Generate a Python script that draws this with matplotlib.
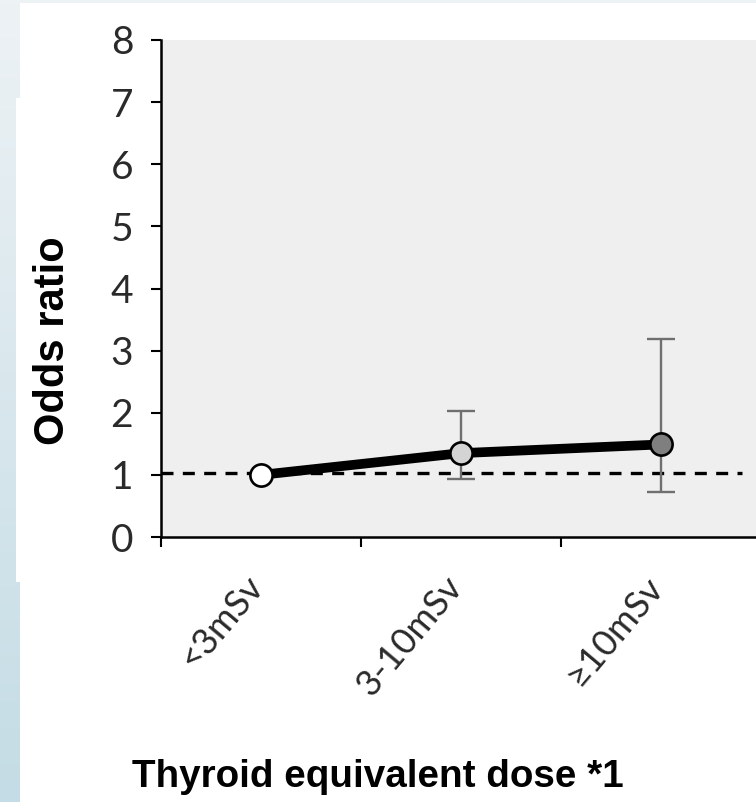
import numpy as np
import matplotlib
matplotlib.use("Agg")
import matplotlib.pyplot as plt
import matplotlib.transforms as mtransforms
from matplotlib.patches import Rectangle

# odds ratios with 95% CI by thyroid dose group
groups = ["<3mSv", "3-10mSv", "\u226510mSv"]
odds = [1.0, 1.35, 1.49]
ci_low = [1.0, 0.93, 0.72]
ci_high = [1.0, 2.03, 3.19]
marker_colors = ["white", "#d4d4d4", "#7f7f7f"]
ref_level = 1.03

W, H = 756, 802
fig = plt.figure(figsize=(W / 100, H / 100), dpi=100)

# pale blue page edge behind everything
bg = fig.add_axes([0, 0, 1, 1], zorder=-10)
grad = np.linspace(0, 1, 256).reshape(-1, 1)
cmap = matplotlib.colors.LinearSegmentedColormap.from_list("edge", ["#edf2f5", "#c4dce5"])
bg.imshow(grad, aspect="auto", cmap=cmap, extent=[0, W, H, 0])
for x0, y0, x1, y1 in [(20, 3, W, 98), (16, 98, W, 582), (20, 582, W, H)]:
    bg.add_patch(Rectangle((x0, y0), x1 - x0, y1 - y0, color="white", lw=0))
bg.set_xlim(0, W)
bg.set_ylim(H, 0)
bg.axis("off")

ax = fig.add_axes([161 / W, 1 - 537 / H, 1 - 161 / W, (537 - 40) / H])
ax.set_facecolor("#efefef")

x = np.arange(len(groups)) + 0.5
yerr = [np.array(odds) - np.array(ci_low), np.array(ci_high) - np.array(odds)]

ax.axhline(ref_level, xmin=0, xmax=0.976, color="black", lw=2.4,
           linestyle=(0, (3.6, 2.8)), zorder=1)
ax.errorbar(x[1:], odds[1:], yerr=[yerr[0][1:], yerr[1][1:]], fmt="none",
            ecolor="#6f6f6f", elinewidth=1.7, capsize=10, capthick=1.7, zorder=2)
ax.plot(x, odds, color="black", lw=7, zorder=3, solid_capstyle="butt")
for xi, yi, c in zip(x, odds, marker_colors):
    ax.plot(xi, yi, "o", ms=16, mfc=c, mec="black", mew=1.9, zorder=4)

ax.set_xlim(0, (W - 161) / 200)
ax.set_ylim(0, 8)
ax.set_yticks(range(9))
ax.set_xticks([0, 1, 2])
ax.set_xticklabels([])

for s in ["top", "right"]:
    ax.spines[s].set_visible(False)
for s in ["left", "bottom"]:
    ax.spines[s].set_linewidth(1.8)
ax.tick_params(axis="both", length=7, width=1.5, direction="out")
ax.tick_params(axis="y", labelsize=28, pad=13)
for lab in ax.get_yticklabels():
    lab.set_family("Lato")
    lab.set_color("#2a2a2a")

# rotated group names under each point
shift = mtransforms.ScaledTranslation(8 / 100, -33 / 100, fig.dpi_scale_trans)
for xi, g in zip(x, groups):
    ax.text(xi, 0, g, transform=ax.get_xaxis_transform() + shift,
            rotation=50, ha="right", va="top", fontsize=26,
            family="Lato", color="#2a2a2a")

fig.text(378 / W, 1 - 777 / H, "Thyroid equivalent dose *1", ha="center",
         va="center", fontsize=27.8, fontweight="bold", family="Liberation Sans")
fig.text(53 / W, 1 - 341 / H, "Odds ratio", ha="center", va="center",
         rotation=90, fontsize=30, fontweight="bold", family="Liberation Sans")

fig.savefig("out.png", dpi=100)
